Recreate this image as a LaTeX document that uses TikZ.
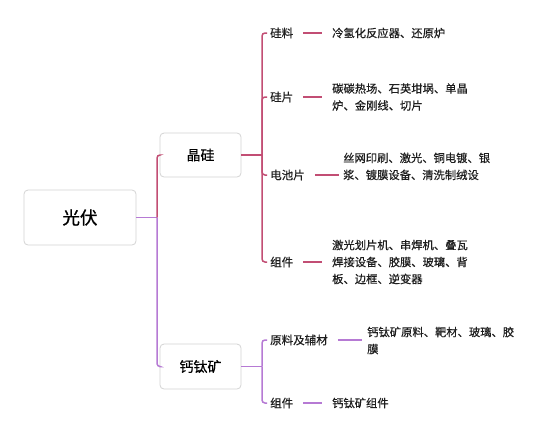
\documentclass[tikz,border=0pt]{standalone}
\usepackage{fontspec}
\setmainfont[FakeBold=0.5]{Noto Sans CJK SC}
\newfontfamily\heavyfont[FakeBold=1.2]{Noto Sans CJK SC}
\definecolor{roseC}{RGB}{194,78,116}
\definecolor{purpC}{RGB}{182,122,212}
\definecolor{boxC}{RGB}{212,212,212}
\begin{document}
\begin{tikzpicture}[x=1pt,y=-1pt,
 box/.style={draw=boxC, line width=0.8pt, rounded corners=4pt, fill=white, text=black},
 lab/.style={anchor=west, inner sep=0pt, text={rgb,255:red,30;green,30;blue,30}, font=\fontsize{11.5}{17}\selectfont},
 leaf/.style={anchor=west, inner sep=0pt, align=left, text={rgb,255:red,30;green,30;blue,30}, font=\fontsize{11.3}{17}\selectfont},
 rose/.style={draw=roseC, line width=1.5pt},
 purp/.style={draw=purpC, line width=1.5pt}]
\useasboundingbox[fill=white] (0,0) rectangle (553,421);
% boxes
\node[box, minimum width=112pt, minimum height=55pt, font=\heavyfont\fontsize{17.5}{20}\selectfont] (gf) at (80,217.5) {光伏};
\node[box, minimum width=81pt, minimum height=44pt, font=\fontsize{14}{16}\selectfont] (jg) at (200.5,155) {晶硅};
\node[box, minimum width=81pt, minimum height=45pt, font=\fontsize{14}{16}\selectfont] (gtk) at (200.5,366.5) {钙钛矿};
% labels
\node[lab] (gl) at (270,33) {硅料};
\node[lab] (gp) at (270,97) {硅片};
\node[lab] (dcp) at (270,175) {电池片};
\node[lab] (zja) at (270,262) {组件};
\node[lab] (ylf) at (270,340) {原料及辅材};
\node[lab] (zjb) at (270,403) {组件};
% leaves
\node[leaf] (l1) at (332,33) {冷氢化反应器、还原炉};
\node[leaf] (l2) at (332,97) {碳碳热场、石英坩埚、单晶\\炉、金刚线、切片};
\node[leaf] (l3) at (343,166.5) {丝网印刷、激光、铜电镀、银\\浆、镀膜设备、清洗制绒设};
\node[leaf] (l4) at (332,262) {激光划片机、串焊机、叠瓦\\焊接设备、胶膜、玻璃、背\\板、边框、逆变器};
\node[leaf] (l5) at (367,340.5) {钙钛矿原料、靶材、玻璃、胶\\膜};
\node[leaf] (l6) at (332,403) {钙钛矿组件};
% junctions
\coordinate (t) at (157,217.5);
\coordinate (ba) at (262,155);
\coordinate (bb) at (262,366.5);
% trunk
\draw[purp] (gf.east) -- (t);
\draw[rose, rounded corners=3pt] (t) |- (jg.west);
\draw[purp, rounded corners=3pt] (t) |- (gtk.west);
% crystalline silicon branch
\draw[rose] (jg.east) -- (ba);
\draw[rose, rounded corners=3pt] (ba) |- ([xshift=-3pt]gl.west);
\draw[rose, rounded corners=3pt] (ba) |- ([xshift=-3pt]gp.west);
\draw[rose, rounded corners=3pt] (ba) |- ([xshift=-3pt]dcp.west);
\draw[rose, rounded corners=3pt] (ba) |- ([xshift=-3pt]zja.west);
% perovskite branch
\draw[purp] (gtk.east) -- (bb);
\draw[purp, rounded corners=3pt] (bb) |- ([xshift=-3pt]ylf.west);
\draw[purp, rounded corners=3pt] (bb) |- ([xshift=-3pt]zjb.west);
% leaf connectors
\draw[rose, shorten <=10pt, shorten >=10pt] (gl.east) -- (gl.east -| l1.west);
\draw[rose, shorten <=10pt, shorten >=10pt] (gp.east) -- (gp.east -| l2.west);
\draw[rose, shorten <=10pt, shorten >=4pt] (dcp.east) -- (dcp.east -| l3.west);
\draw[rose, shorten <=10pt, shorten >=10pt] (zja.east) -- (zja.east -| l4.west);
\draw[purp, shorten <=10pt, shorten >=5pt] (ylf.east) -- (ylf.east -| l5.west);
\draw[purp, shorten <=10pt, shorten >=10pt] (zjb.east) -- (zjb.east -| l6.west);
\end{tikzpicture}
\end{document}
